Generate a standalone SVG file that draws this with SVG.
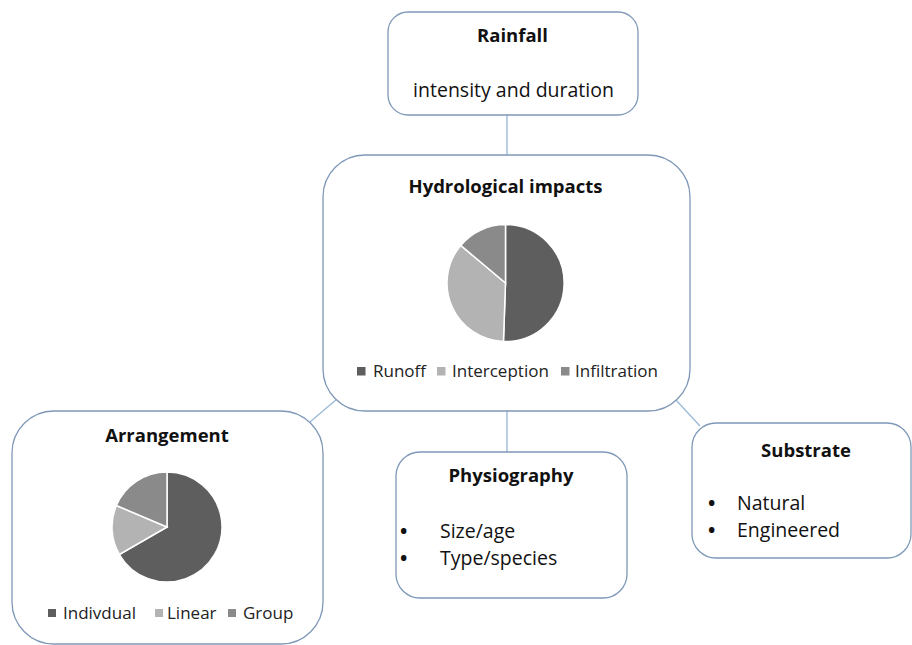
<svg xmlns="http://www.w3.org/2000/svg" width="912" height="645" viewBox="0 0 912 645">
<style>
.box{fill:#ffffff;stroke:#7f98b8;stroke-width:1.3}
.con{stroke:#9dbbd7;stroke-width:1.4;fill:none}
.t{font-family:"Open Sans","Liberation Sans",sans-serif;font-weight:bold;font-size:18.5px;fill:#111;text-anchor:middle}
.b{font-family:"Open Sans","Liberation Sans",sans-serif;font-size:19.5px;fill:#111}
.bu{font-family:"Open Sans","Liberation Sans",sans-serif;font-size:19.5px;font-weight:bold;fill:#111}
.lg{font-family:"Open Sans","Liberation Sans",sans-serif;font-size:17px;fill:#222}
.s1{fill:#5e5e5e;stroke:#fff;stroke-width:1.5}
.s2{fill:#b3b3b3;stroke:#fff;stroke-width:1.5}
.s3{fill:#8a8a8a;stroke:#fff;stroke-width:1.5}
.k1{fill:#5e5e5e}.k2{fill:#b3b3b3}.k3{fill:#8a8a8a}
</style>
<rect width="912" height="645" fill="#ffffff"/>
<g id="connectors">
<line class="con" x1="507" y1="115" x2="507" y2="155"/>
<line class="con" x1="337" y1="399" x2="310" y2="422"/>
<line class="con" x1="507" y1="411" x2="507" y2="452"/>
<line class="con" x1="675" y1="399" x2="700" y2="426"/>
</g>
<g id="rainfall">
<rect class="box" x="388" y="12" width="250" height="103" rx="20"/>
<text class="t" x="512.5" y="42">Rainfall</text>
<text class="b" x="513.5" y="97" text-anchor="middle">intensity and duration</text>
</g>
<g id="hydrological">
<rect class="box" x="323" y="155" width="367" height="256" rx="42"/>
<text class="t" x="505.5" y="193">Hydrological impacts</text>
<path class="s1" d="M505.5 283 L505.5 224.5 A58.5 58.5 0 1 1 503.46 341.46 Z"/>
<path class="s2" d="M505.5 283 L503.46 341.46 A58.5 58.5 0 0 1 460.69 245.4 Z"/>
<path class="s3" d="M505.5 283 L460.69 245.4 A58.5 58.5 0 0 1 505.5 224.5 Z"/>
<rect class="k1" x="357" y="367" width="8.5" height="8.5"/>
<text class="lg" x="373" y="377">Runoff</text>
<rect class="k2" x="437" y="367" width="8.5" height="8.5"/>
<text class="lg" x="452" y="377">Interception</text>
<rect class="k3" x="561" y="367" width="8.5" height="8.5"/>
<text class="lg" x="575" y="377">Infiltration</text>
</g>
<g id="arrangement">
<rect class="box" x="12" y="411" width="311" height="233" rx="42"/>
<text class="t" x="167" y="442">Arrangement</text>
<path class="s1" d="M167 527 L167 472 A55 55 0 1 1 119.37 554.5 Z"/>
<path class="s2" d="M167 527 L119.37 554.5 A55 55 0 0 1 116.37 505.51 Z"/>
<path class="s3" d="M167 527 L116.37 505.51 A55 55 0 0 1 167 472 Z"/>
<rect class="k1" x="48" y="609" width="8" height="8"/>
<text class="lg" x="63" y="619">Indivdual</text>
<rect class="k2" x="155" y="609" width="8" height="8"/>
<text class="lg" x="167" y="619">Linear</text>
<rect class="k3" x="228" y="609" width="8" height="8"/>
<text class="lg" x="243" y="619">Group</text>
</g>
<g id="physiography">
<rect class="box" x="396" y="452" width="231" height="146" rx="24"/>
<text class="t" x="511" y="482">Physiography</text>
<text class="bu" x="400" y="538">•</text>
<text class="b" x="440" y="538">Size/age</text>
<text class="bu" x="400" y="565">•</text>
<text class="b" x="440" y="565">Type/species</text>
</g>
<g id="substrate">
<rect class="box" x="692" y="423" width="219" height="135" rx="24"/>
<text class="t" x="806" y="457">Substrate</text>
<text class="bu" x="708" y="510">•</text>
<text class="b" x="737" y="510">Natural</text>
<text class="bu" x="708" y="537">•</text>
<text class="b" x="737" y="537">Engineered</text>
</g>
</svg>
